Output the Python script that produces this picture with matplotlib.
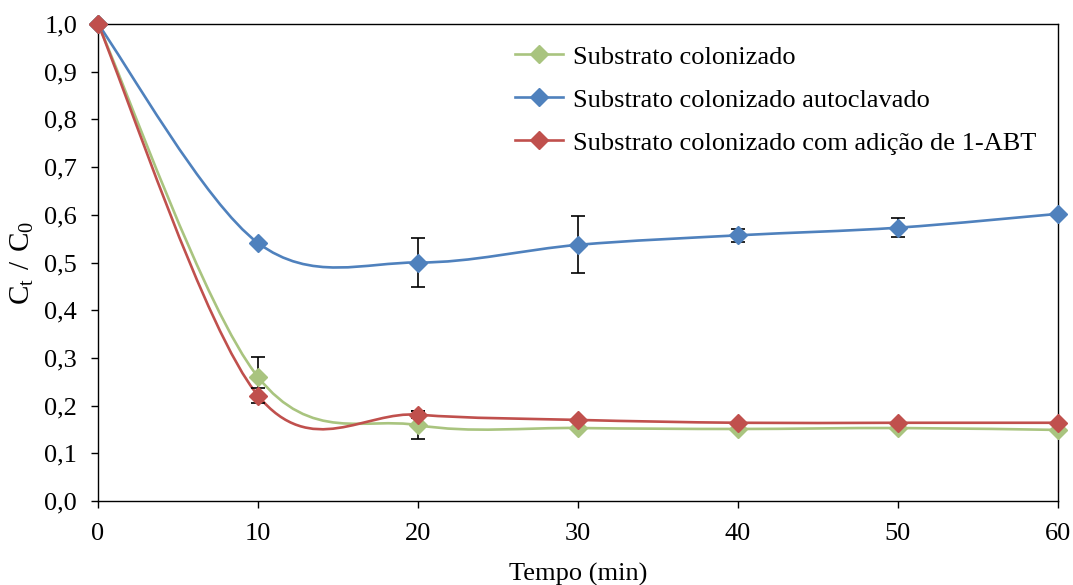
from matplotlib import pyplot as plt
from matplotlib.path import Path
from matplotlib.patches import PathPatch
import numpy as np

plt.rcParams['font.family'] = ['Liberation Serif', 'DejaVu Serif']
plt.rcParams['mathtext.fontset'] = 'custom'
plt.rcParams['mathtext.rm'] = 'Liberation Serif'

tempo = [0, 10, 20, 30, 40, 50, 60]

colonizado = [1.0, 0.26, 0.159, 0.153, 0.151, 0.153, 0.149]
colonizado_err = [0, 0.042, 0.03, 0, 0, 0, 0]

autoclavado = [1.0, 0.541, 0.500, 0.537, 0.557, 0.573, 0.602]
autoclavado_err = [0, 0, 0.051, 0.06, 0.014, 0.02, 0]

abt = [1.0, 0.221, 0.181, 0.170, 0.164, 0.164, 0.164]
abt_err = [0, 0.015, 0.008, 0, 0, 0, 0]

labels = ['Substrato colonizado', 'Substrato colonizado autoclavado',
          'Substrato colonizado com adição de 1-ABT']
colors = ['#A9C47F', '#4F81BD', '#C0504D']


def smooth_path(x, y):
    # excel-style smoothed line: cubic bezier through every point
    p = np.column_stack([x, y]).astype(float)
    n = len(p)
    verts = [p[0]]
    codes = [Path.MOVETO]
    for i in range(n - 1):
        p0 = p[i - 1] if i > 0 else p[i]
        p3 = p[i + 2] if i + 2 < n else p[i + 1]
        c1 = p[i] + (p[i + 1] - p0) / 6
        c2 = p[i + 1] - (p3 - p[i]) / 6
        verts += [c1, c2, p[i + 1]]
        codes += [Path.CURVE4] * 3
    return Path(verts, codes)


fig = plt.figure(figsize=(10.73, 5.85), dpi=100)
ax = fig.add_axes([98 / 1073, 1 - 501 / 585, 960 / 1073, 477 / 585])

series = [(colonizado, colonizado_err), (autoclavado, autoclavado_err), (abt, abt_err)]
for (vals, err), c, lab in zip(series, colors, labels):
    ax.add_patch(PathPatch(smooth_path(tempo, vals), facecolor='none',
                           edgecolor=c, lw=1.9, zorder=2))
    e = np.array(err)
    m = e > 0
    ax.errorbar(np.array(tempo)[m], np.array(vals)[m], yerr=e[m], fmt='none',
                ecolor='black', elinewidth=1.2, capsize=5, capthick=1.2, zorder=3)
    ax.plot(tempo, vals, ls='none', marker='D', ms=9, color=c, zorder=4, clip_on=False)
    ax.plot([], [], color=c, lw=1.9, marker='D', ms=9, label=lab)

ax.set_xlim(0, 60)
ax.set_ylim(0, 1)
ax.set_xticks(range(0, 61, 10))
ax.set_yticks(np.arange(0, 1.01, 0.1))
ax.set_yticklabels([('%.1f' % v).replace('.', ',') for v in np.arange(0, 1.01, 0.1)])
ax.tick_params(labelsize=19, direction='out', length=5, width=1, color='black')
ax.tick_params(axis='x', pad=11)
ax.tick_params(axis='y', pad=10)
for s in ax.spines.values():
    s.set_linewidth(1)
    s.set_color('black')

ax.set_xlabel('Tempo (min)', fontsize=19, labelpad=13)
ax.set_ylabel(r'$\mathregular{C_t\ /\ C_0}$', fontsize=21, labelpad=6)

ax.legend(loc='upper left', bbox_to_anchor=(0.423, 0.978), frameon=False, fontsize=19,
          handlelength=1.85, handletextpad=0.35, labelspacing=0.74, borderaxespad=0)

plt.savefig('out.png', dpi=100)
